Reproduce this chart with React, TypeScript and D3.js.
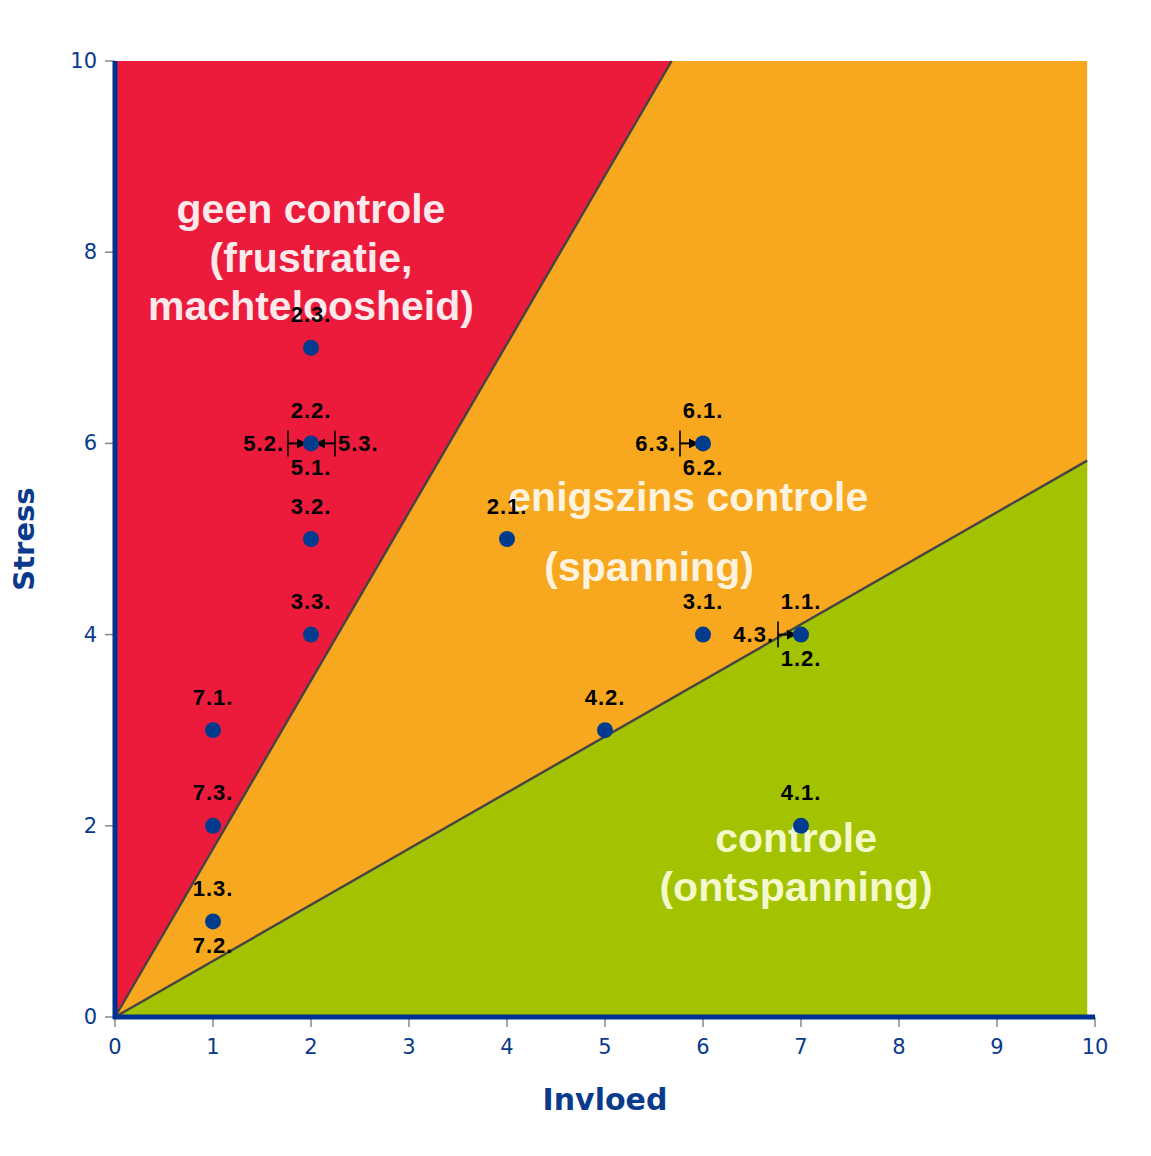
import React from "react";
import * as d3 from "d3";

const xTicks = [0, 1, 2, 3, 4, 5, 6, 7, 8, 9, 10];
const yTicks = [0, 2, 4, 6, 8, 10];

// scatter points (Invloed, Stress)
const pointX = [2, 2, 2, 2, 1, 1, 1, 4, 6, 6, 7, 5, 7];
const pointY = [7, 6, 5, 4, 3, 2, 1, 5, 6, 4, 4, 3, 2];

// labels: text, x, y, position
const labelText = ["2.3.", "2.2.", "5.1.", "5.2.", "5.3.", "3.2.", "3.3.", "7.1.", "7.3.", "1.3.", "7.2.", "2.1.", "6.1.", "6.2.", "6.3.", "3.1.", "1.1.", "1.2.", "4.3.", "4.2.", "4.1."];
const labelX = [2, 2, 2, 2, 2, 2, 2, 1, 1, 1, 1, 4, 6, 6, 6, 6, 7, 7, 7, 5, 7];
const labelY = [7, 6, 6, 6, 6, 5, 4, 3, 2, 1, 1, 5, 6, 6, 6, 4, 4, 4, 4, 3, 2];
const labelPos = ["above", "above", "below", "left", "right", "above", "above", "above", "above", "above", "below", "above", "above", "below", "left", "above", "above", "below", "left", "above", "above"];

// zone boundaries (data coords)
const zoneRight = 9.92;
const redTopX = 5.68;
const greenRightY = 5.82;

const regionLines = [
  { lines: ["geen controle", "(frustratie,", "machteloosheid)"], x: 2.0, y: [8.45, 7.94, 7.44], fill: "#fde8ec" },
  { lines: ["enigszins controle"], x: 5.85, y: [5.44], fill: "#fff3df" },
  { lines: ["(spanning)"], x: 5.45, y: [4.71], fill: "#fff3df" },
  { lines: ["controle", "(ontspanning)"], x: 6.95, y: [1.87, 1.36], fill: "#f4f9cc" },
];

export default function App() {
  const W = 1151, H = 1156;
  const x = d3.scaleLinear().domain([0, 10]).range([115, 1095]);
  const y = d3.scaleLinear().domain([0, 10]).range([1017, 61]);
  const poly = (pts: [number, number][]) =>
    pts.map(([a, b]) => `${x(a)},${y(b)}`).join(" ");

  const blue = "#0a3a8c";
  const axisBlue = "#003090";
  const sans = "'Liberation Sans', Arial, sans-serif";
  return (
    <svg width={W} height={H} style={{ position: "absolute", left: 0, top: 0, background: "#fff" }}
      fontFamily={sans}>
      <defs>
        <marker id="ah" viewBox="0 0 10 10" refX="9" refY="5" markerWidth="5" markerHeight="5" orient="auto-start-reverse">
          <path d="M0,0 L10,5 L0,10 z" fill="#000" />
        </marker>
      </defs>
      {/* zones */}
      <polygon points={poly([[0, 0], [zoneRight, 0], [zoneRight, 10], [0, 10]])} fill="#f7a81e" />
      <polygon points={poly([[0, 0], [redTopX, 10], [0, 10]])} fill="#ec1b3b" />
      <polygon points={poly([[0, 0], [zoneRight, greenRightY], [zoneRight, 0]])} fill="#a3c300" />
      <line x1={x(0)} y1={y(0)} x2={x(redTopX)} y2={y(10)} stroke="#444" strokeWidth={2.4} />
      <line x1={x(0)} y1={y(0)} x2={x(zoneRight)} y2={y(greenRightY)} stroke="#444" strokeWidth={2.4} />

      {regionLines.map((r, i) =>
        r.lines.map((t, j) => (
          <text key={`${i}-${j}`} x={x(r.x)} y={y(r.y[j])} textAnchor="middle" dominantBaseline="central"
            fontSize={41} fontWeight="bold" fill={r.fill} fontFamily={sans}>{t}</text>
        ))
      )}

      {/* ticks */}
      {yTicks.map((t) => (
        <g key={`y${t}`}>
          <line x1={105} x2={115} y1={y(t)} y2={y(t)} stroke="#888" strokeWidth={1.5} />
          <text x={97} y={y(t)} textAnchor="end" dominantBaseline="central" fontSize={21} fill={blue}
            fontFamily="'DejaVu Sans', Verdana, sans-serif">{t}</text>
        </g>
      ))}
      {xTicks.map((t) => (
        <g key={`x${t}`}>
          <line x1={x(t)} x2={x(t)} y1={1017} y2={1027} stroke="#888" strokeWidth={1.5} />
          <text x={x(t)} y={1047} textAnchor="middle" dominantBaseline="central" fontSize={21} fill={blue}
            fontFamily="'DejaVu Sans', Verdana, sans-serif">{t}</text>
        </g>
      ))}
      {/* axis lines */}
      <line x1={115} x2={115} y1={y(10)} y2={1019} stroke={axisBlue} strokeWidth={5} />
      <line x1={113} x2={x(10)} y1={1017} y2={1017} stroke={axisBlue} strokeWidth={5} />

      <text x={605} y={1099} textAnchor="middle" dominantBaseline="central" fontSize={30} fontWeight="bold" fill={blue}
        fontFamily="'DejaVu Sans', Verdana, sans-serif">Invloed</text>
      <text transform={`translate(24,${y(5)}) rotate(-90)`} textAnchor="middle" dominantBaseline="central" fontSize={29}
        fontWeight="bold" fill={blue} fontFamily="'DejaVu Sans', Verdana, sans-serif">Stress</text>

      {/* arrows for left/right labels */}
      {labelText.map((t, i) => {
        const p = labelPos[i];
        if (p !== "left" && p !== "right") return null;
        const cx = x(labelX[i]), cy = y(labelY[i]);
        const bx = p === "left" ? cx - 23 : cx + 24;
        const ex = p === "left" ? cx - 5 : cx + 5;
        return (
          <g key={`a${i}`}>
            <line x1={bx} x2={bx} y1={cy - 13} y2={cy + 13} stroke="#000" strokeWidth={1.6} />
            <line x1={bx} x2={ex} y1={cy} y2={cy} stroke="#000" strokeWidth={2} markerEnd="url(#ah)" />
          </g>
        );
      })}

      {/* points */}
      {pointX.map((px, i) => (
        <circle key={`p${i}`} cx={x(px)} cy={y(pointY[i])} r={8} fill="#003b8e" />
      ))}

      {/* labels */}
      {labelText.map((t, i) => {
        const cx = x(labelX[i]), cy = y(labelY[i]);
        const p = labelPos[i];
        let tx = cx, ty = cy, anchor = "middle";
        if (p === "above") ty = cy - 33;
        else if (p === "below") ty = cy + 24;
        else if (p === "left") { tx = cx - 27; anchor = "end"; }
        else { tx = cx + 27; anchor = "start"; }
        return (
          <text key={`l${i}`} x={tx} y={ty} textAnchor={anchor} dominantBaseline="central" fontSize={22}
            letterSpacing={1} fontWeight="bold" fill="#000" fontFamily={sans}>{t}</text>
        );
      })}
    </svg>
  );
}
